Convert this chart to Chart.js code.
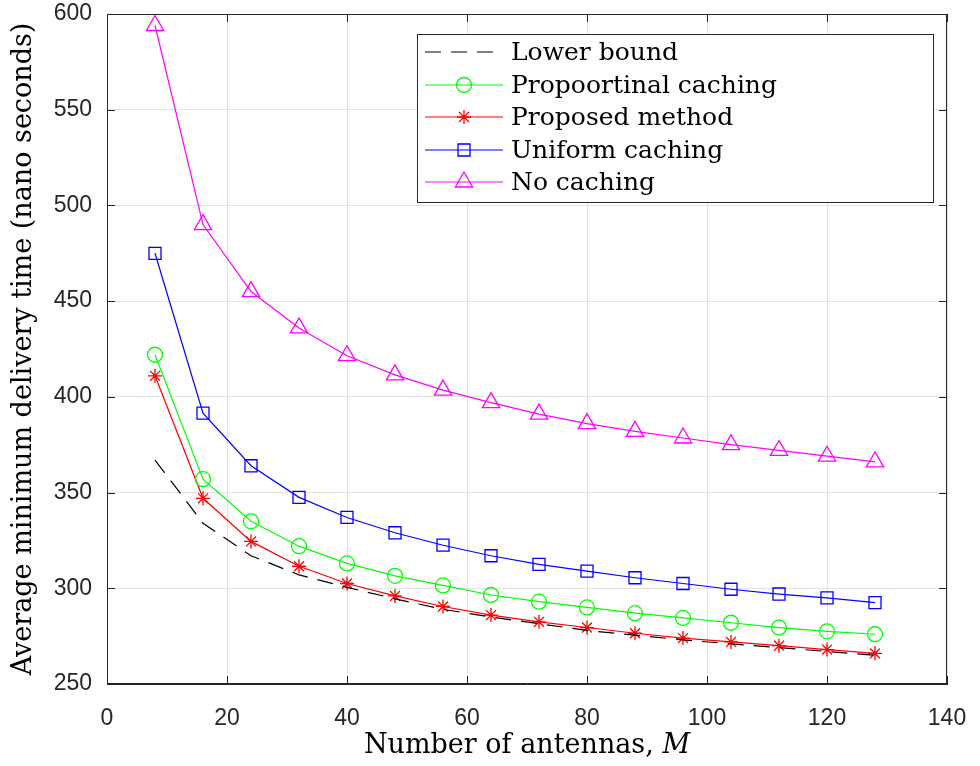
<!DOCTYPE html>
<html>
<head>
<meta charset="utf-8">
<script src="https://cdn.jsdelivr.net/npm/chart.js@4/dist/chart.umd.min.js"></script>
<style>
  html, body { margin: 0; padding: 0; background: #fff; }
  #wrap { width: 980px; height: 766px; }
</style>
</head>
<body>
<div id="wrap"><canvas id="delay"></canvas></div>
<script>
const antennas = [8, 16, 24, 32, 40, 48, 56, 64, 72, 80, 88, 96, 104, 112, 120, 128];

const lowerBound   = [367, 334, 317, 307, 300.5, 294.5, 289, 285, 281.5, 278, 275.5, 273, 271, 269, 267, 265];
const proportional = [422, 357, 335, 322, 313, 306.5, 301.5, 296.5, 293, 290, 287, 284.5, 282, 279.5, 277.5, 276];
const proposed     = [411, 347, 324.5, 311.5, 302.5, 296, 290.5, 286, 282.5, 279.5, 276.5, 274, 272, 270, 268, 266];
const uniform      = [475, 391.5, 364, 347.5, 337, 329, 322.5, 317, 312.5, 309, 305.5, 302.5, 299.5, 297, 295, 292.5];
const noCaching    = [594, 490, 455, 436, 421.5, 411.5, 403.5, 397, 391, 386, 382, 378.5, 375, 372, 369, 366];

const xTicks = [0, 20, 40, 60, 80, 100, 120, 140];
const yTicks = [250, 300, 350, 400, 450, 500, 550, 600];

const serif = '"DejaVu Serif", "Liberation Serif", serif';
const sans = '"Liberation Sans", Arial, sans-serif';
const axisColor = '#262626';

function pts(ys) {
    return antennas.map((x, i) => ({ x: x, y: ys[i] }));
}

const series = [
    { label: 'Lower bound', data: lowerBound, color: '#000000', style: false, dash: [16, 10] },
    { label: 'Propoortinal caching', data: proportional, color: '#00ff00', style: 'circle', r: 7.5 },
    { label: 'Proposed method', data: proposed, color: '#ff0000', style: 'star', r: 7 },
    { label: 'Uniform caching', data: uniform, color: '#0000ff', style: 'rect', r: 8.5 },
    { label: 'No caching', data: noCaching, color: '#ff00ff', style: 'triangle', r: 10 }
];

const datasets = series.map(s => ({
    label: s.label,
    data: pts(s.data),
    borderColor: s.color,
    backgroundColor: 'rgba(0,0,0,0)',
    borderWidth: 1.2,
    borderDash: s.dash || [],
    pointStyle: s.style,
    pointRadius: s.style ? s.r : 0,
    pointBorderWidth: 1.3,
    pointBorderColor: s.color,
    pointBackgroundColor: 'rgba(0,0,0,0)',
    tension: 0
}));

// box, inward ticks, legend, x title with italic M
const extras = {
    id: 'extras',
    afterDraw(chart) {
        const ctx = chart.ctx;
        const a = chart.chartArea;
        const xs = chart.scales.x, ys = chart.scales.y;
        ctx.save();
        ctx.strokeStyle = axisColor;
        ctx.lineWidth = 1;
        ctx.strokeRect(a.left + 0.5, a.top + 0.5, a.right - a.left - 1, a.bottom - a.top - 1);
        ctx.beginPath();
        xTicks.forEach(v => {
            const px = Math.round(xs.getPixelForValue(v)) + 0.5;
            ctx.moveTo(px, a.bottom); ctx.lineTo(px, a.bottom - 8);
            ctx.moveTo(px, a.top); ctx.lineTo(px, a.top + 8);
        });
        yTicks.forEach(v => {
            const py = Math.round(ys.getPixelForValue(v)) + 0.5;
            ctx.moveTo(a.left, py); ctx.lineTo(a.left + 8, py);
            ctx.moveTo(a.right, py); ctx.lineTo(a.right - 8, py);
        });
        ctx.stroke();

        // legend
        const bx = 417, by = 34, bw = 516, bh = 168;
        ctx.fillStyle = '#fff';
        ctx.fillRect(bx, by, bw, bh);
        ctx.strokeStyle = '#262626';
        ctx.strokeRect(bx + 0.5, by + 0.5, bw, bh);
        ctx.textBaseline = 'middle';
        series.forEach((s, i) => {
            const cy = Math.round(52 + i * 32.5);
            ctx.strokeStyle = s.color;
            ctx.lineWidth = 1.2;
            ctx.setLineDash(s.dash || []);
            ctx.beginPath();
            ctx.moveTo(425, cy); ctx.lineTo(503, cy);
            ctx.stroke();
            ctx.setLineDash([]);
            if (s.style) {
                ctx.lineWidth = 1.3;
                ctx.strokeStyle = s.color;
                ctx.fillStyle = 'rgba(0,0,0,0)';
                Chart.helpers.drawPoint(ctx, { pointStyle: s.style, radius: s.r, rotation: 0, borderWidth: 1.3 }, 464, cy);
            }
            ctx.fillStyle = '#000';
            ctx.font = '25px ' + serif;
            ctx.fillText(s.label, 511, cy + 1);
        });

        // x title
        ctx.fillStyle = '#000';
        const fs = 27;
        ctx.font = fs + 'px ' + serif;
        const t1 = 'Number of antennas, ';
        const t2 = 'M';
        const w1 = ctx.measureText(t1).width;
        ctx.font = 'italic ' + fs + 'px ' + serif;
        const w2 = ctx.measureText(t2).width;
        const cx = (a.left + a.right) / 2;
        const sx = cx - (w1 + w2) / 2;
        ctx.textBaseline = 'middle';
        ctx.textAlign = 'left';
        ctx.font = fs + 'px ' + serif;
        ctx.fillText(t1, sx, 746);
        ctx.font = 'italic ' + fs + 'px ' + serif;
        ctx.fillText(t2, sx + w1, 746);
        ctx.restore();
    }
};

new Chart(document.getElementById('delay'), {
    type: 'line',
    data: { datasets: datasets },
    options: {
        responsive: true,
        maintainAspectRatio: false,
        animation: false,
        layout: { padding: { left: 0, right: 33, top: 0, bottom: 0 } },
        plugins: {
            legend: { display: false },
            tooltip: { enabled: false }
        },
        scales: {
            x: {
                type: 'linear',
                min: 0,
                max: 140,
                afterBuildTicks: s => { s.ticks = xTicks.map(v => ({ value: v })); },
                afterFit: s => { s.height = 82; s.paddingLeft = 0; s.paddingRight = 0; },
                ticks: { color: axisColor, font: { family: sans, size: 23 }, padding: 21 },
                grid: { color: '#e3e3e3', lineWidth: 1, drawTicks: false },
                border: { color: axisColor }
            },
            y: {
                min: 250,
                max: 600,
                afterBuildTicks: s => { s.ticks = yTicks.map(v => ({ value: v })); },
                afterFit: s => { s.width = 107; s.paddingTop = 14; s.paddingBottom = 0; },
                ticks: { color: axisColor, font: { family: sans, size: 23 }, padding: 15 },
                grid: { color: '#e3e3e3', lineWidth: 1, drawTicks: false },
                border: { color: axisColor },
                title: {
                    display: true,
                    text: 'Average minimum delivery time (nano seconds)',
                    color: '#000',
                    font: { family: serif, size: 27 },
                    padding: { top: 8, bottom: 0 }
                }
            }
        }
    },
    plugins: [extras]
});
</script>
</body>
</html>
